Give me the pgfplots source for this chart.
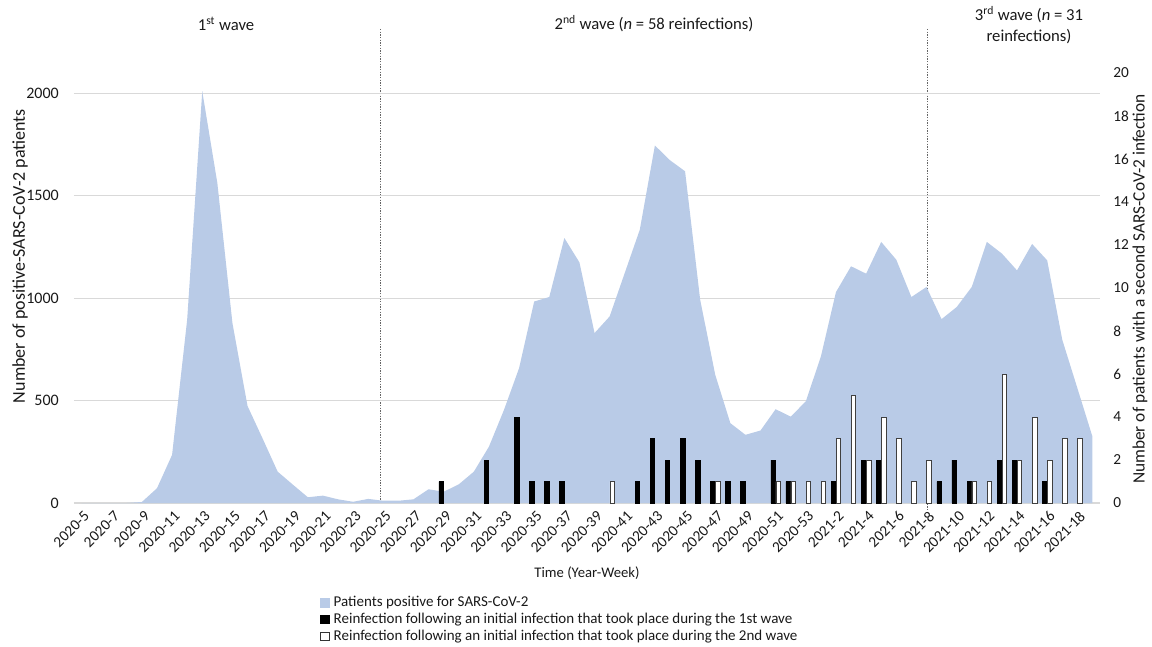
\documentclass[border=0pt]{standalone}
\usepackage{pgfplots}
\pgfplotsset{compat=1.18}
\usepackage{pgfplotstable}
\usepackage{fontspec}
\setmainfont{Carlito}
\definecolor{areablue}{RGB}{185,203,231}
\definecolor{gridgray}{RGB}{217,217,217}
\definecolor{txt}{RGB}{25,25,25}

\pgfplotstableread{
i v
0 0
1 0
2 0
3 0
4 5
5 72
6 235
7 895
8 2011
9 1563
10 879
11 474
12 315
13 153
14 90
15 28
16 36
17 18
18 6
19 20
20 11
21 11
22 18
23 67
24 55
25 91
26 153
27 275
28 455
29 659
30 984
31 1006
32 1294
33 1175
34 830
35 911
36 1123
37 1335
38 1746
39 1674
40 1620
41 993
42 626
43 390
44 333
45 354
46 458
47 422
48 496
49 715
50 1030
51 1156
52 1120
53 1275
54 1188
55 1006
56 1055
57 898
58 957
59 1055
60 1275
61 1218
62 1136
63 1265
64 1185
65 797
66 561
67 324
}\areadata

\pgfplotstableread{
i v
24 1
27 2
29 4
30 1
31 1
32 1
37 1
38 3
39 2
40 3
41 2
42 1
43 1
44 1
46 2
47 1
50 1
52 2
53 2
57 1
58 2
59 1
61 2
62 2
64 1
}\blackdata

\pgfplotstableread{
i v
35 1
42 1
46 1
47 1
48 1
49 1
50 3
51 5
52 2
53 4
54 3
55 1
56 2
59 1
60 1
61 6
62 2
63 4
64 2
65 3
66 3
}\whitedata

\begin{document}
\begin{tikzpicture}
\begin{scope}[x=0.75pt,y=-0.75pt,shift={(-55.5pt,377.25pt)}]
  \path[use as bounding box] (0,0) rectangle (1152,646);
  \draw[black!60, line width=0.5pt, dash pattern=on 1pt off 1pt] (380,29) -- (380,503);
  \draw[black!60, line width=0.5pt, dash pattern=on 1pt off 1pt] (927,29) -- (927,510);
\end{scope}

\begin{axis}[
  at={(0,0)}, anchor=south west,
  scale only axis, width=769.5pt, height=322.5pt,
  xmin=-0.5, xmax=67.5, ymin=0, ymax=2100,
  axis lines*=left,
  axis line style={draw=none},
  tick style={draw=none},
  ytick={0,500,1000,1500,2000},
  ymajorgrids,
  grid style={gridgray, line width=0.8pt},
  scaled y ticks=false,
  /pgf/number format/1000 sep={},
  /pgf/number format/assume math mode=true,
  xtick={0,2,...,66},
  xticklabels={2020-5,2020-7,2020-9,2020-11,2020-13,2020-15,2020-17,2020-19,2020-21,2020-23,2020-25,2020-27,2020-29,2020-31,2020-33,2020-35,2020-37,2020-39,2020-41,2020-43,2020-45,2020-47,2020-49,2020-51,2020-53,2021-2,2021-4,2021-6,2021-8,2021-10,2021-12,2021-14,2021-16,2021-18},
  xticklabel style={xshift=4pt, yshift=-8pt, rotate=45, anchor=east, inner sep=0pt, font=\fontsize{11.5}{13}\selectfont, text=txt},
  yticklabel style={xshift=-11.25pt, anchor=east, inner sep=0pt, font=\fontsize{12}{14}\selectfont, text=txt},
]
  \addplot[fill=areablue, draw=none] table[x=i, y=v] {\areadata} \closedcycle;
\end{axis}

\begin{axis}[
  at={(0,0)}, anchor=south west,
  scale only axis, width=769.5pt, height=322.5pt,
  xmin=-0.5, xmax=67.5, ymin=0, ymax=20,
  axis y line*=right,
  axis x line=none,
  y axis line style={draw=none},
  tick style={draw=none},
  ytick={0,2,...,20},
  /pgf/number format/assume math mode=true,
  yticklabel style={xshift=9.75pt, anchor=west, inner sep=0pt, font=\fontsize{11.5}{13}\selectfont, text=txt},
  legend style={at={(axis description cs:0.2398,-0.2116)}, anchor=north west, draw=none, fill=none,
    inner sep=0pt, row sep=0.5pt,
    font=\fontsize{11.25}{13}\selectfont, text=txt,
    nodes={inner sep=0.5pt, text height=8.5pt, text depth=2.75pt},
    /tikz/every odd column/.append style={column sep=2.5pt}},
  legend cell align=left,
]
  \addlegendimage{legend image code/.code={\fill[areablue] (0pt,-3.3pt) rectangle (6.6pt,3.3pt);}}
  \addlegendentry{Patients positive for SARS-CoV-2}
  \addlegendimage{legend image code/.code={\filldraw[fill=black, draw=black, line width=0.4pt] (0pt,-3.1pt) rectangle (6.2pt,3.1pt);}}
  \addlegendentry{Reinfection following an initial infection that took place during the 1st wave}
  \addlegendimage{legend image code/.code={\filldraw[fill=white, draw=black!80, line width=0.5pt] (0pt,-3.1pt) rectangle (6.2pt,3.1pt);}}
  \addlegendentry{Reinfection following an initial infection that took place during the 2nd wave}
  \addplot[forget plot, ybar, bar width=0.30, bar shift=-0.165, fill=black, draw=black, line width=0.4pt] table[x=i, y=v] {\blackdata};
  \addplot[forget plot, ybar, bar width=0.30, bar shift=0.165, fill=white, draw=black!75, line width=0.5pt] table[x=i, y=v] {\whitedata};
\end{axis}

\begin{scope}[x=0.75pt,y=-0.75pt,shift={(-55.5pt,377.25pt)}, every node/.style={text=txt}]
  \node[font=\fontsize{12.5}{15}\selectfont] at (226,24) {1\textsuperscript{st} wave};
  \node[font=\fontsize{12.5}{15}\selectfont] at (654,24) {2\textsuperscript{nd} wave (\textit{n} = 58 reinfections)};
  \node[font=\fontsize{12.5}{15.75}\selectfont, align=center] at (1029,25) {3\textsuperscript{rd} wave (\textit{n} = 31\\reinfections)};
  \node[rotate=90, font=\fontsize{13.5}{15}\selectfont] at (20,256) {Number of positive-SARS-CoV-2 patients};
  \node[rotate=90, font=\fontsize{13}{15}\selectfont] at (1140,289) {Number of patients with a second SARS-CoV-2 infection};
  \node[font=\fontsize{11}{13}\selectfont] at (587,573) {Time (Year-Week)};
\end{scope}
\end{tikzpicture}
\end{document}
